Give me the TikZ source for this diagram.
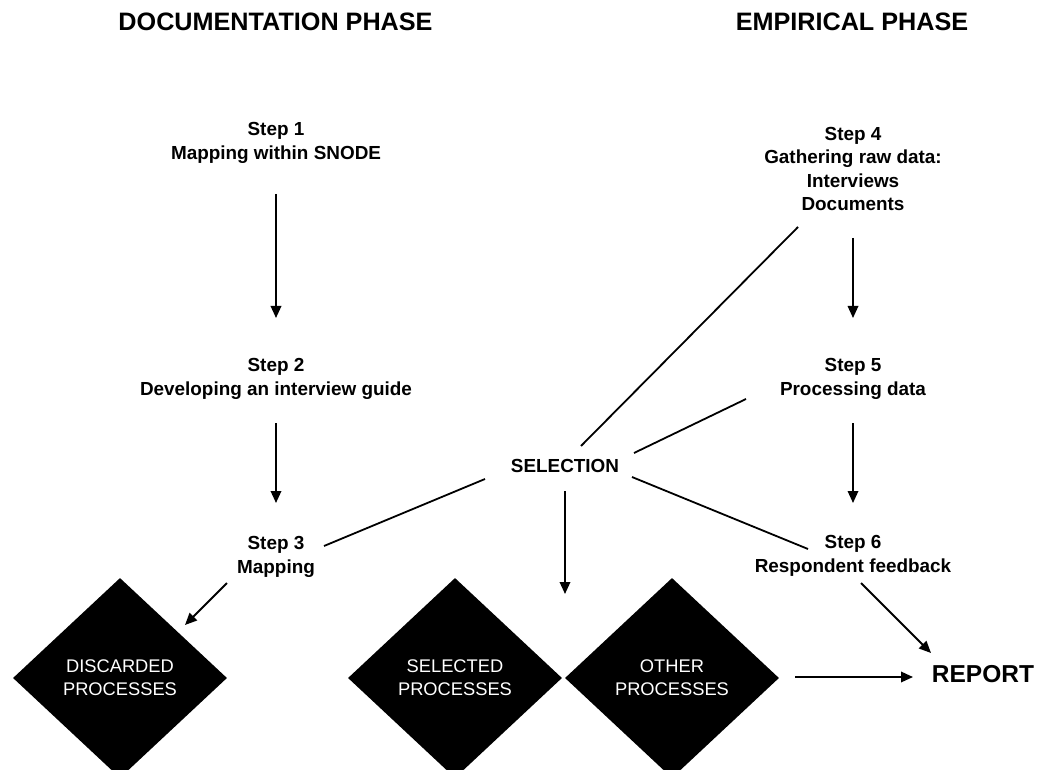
\documentclass[tikz,border=0pt]{standalone}
\usepackage{fontspec}
\setmainfont{Liberation Sans}
\usetikzlibrary{shapes.geometric,arrows.meta,calc}

\tikzset{
  phase/.style={font=\fontsize{25.2}{29}\selectfont\bfseries, inner sep=0pt},
  stepbox/.style={font=\fontsize{18.9}{23.5}\selectfont\bfseries, align=center, inner sep=0pt},
  process/.style={diamond, fill=black, text=white, align=center, inner sep=0pt,
    minimum width=214pt, minimum height=200pt,
    font=\fontsize{18.3}{23}\selectfont},
  link/.style={line width=1.8pt},
  arr/.style={line width=1.8pt, -{Triangle[length=12pt,width=10.5pt]}},
}

\begin{document}
\begin{tikzpicture}[x=1pt,y=-1pt]
  \useasboundingbox (0,0) rectangle (1045,770);

  % column headings
  \node[phase] (hdoc) at (275.5,22) {DOCUMENTATION PHASE};
  \node[phase] (hemp) at (852,22) {EMPIRICAL PHASE};

  % documentation phase steps
  \node[stepbox] (s1) at (276,143) {Step 1\\Mapping within SNODE};
  \node[stepbox] (s2) at (276,379) {Step 2\\Developing an interview guide};
  \node[stepbox] (s3) at (276,557) {Step 3\\Mapping};

  % empirical phase steps
  \node[stepbox] (s4) at (853,169) {Step 4\\Gathering raw data:\\Interviews\\Documents};
  \node[stepbox] (s5) at (853,379) {Step 5\\Processing data};
  \node[stepbox] (s6) at (853,556) {Step 6\\Respondent feedback};

  \node[stepbox] (sel) at (565,466) {SELECTION};

  % outcome diamonds
  \node[process] (disc) at (120,678) {DISCARDED\\PROCESSES};
  \node[process] (selp) at (455,678) {SELECTED\\PROCESSES};
  \node[process] (oth) at (672,678) {OTHER\\PROCESSES};

  \node[font=\fontsize{24.5}{29}\selectfont\bfseries, inner sep=0pt] (rep) at (983,674) {REPORT};

  % step sequence
  \draw[arr] ($(s1)+(0,51)$) -- ($(s2)+(0,-61)$);
  \draw[arr] ($(s2)+(0,44)$) -- ($(s3)+(0,-54)$);
  \draw[arr] ($(s4)+(0,69)$) -- ($(s5)+(0,-61)$);
  \draw[arr] ($(s5)+(0,44)$) -- ($(s6)+(0,-53)$);

  % selection links
  \draw[link] ($(sel)+(-80,13)$) -- ($(s3)+(48,-11)$);
  \draw[link] ($(sel)+(16,-20)$) -- ($(s4)+(-55,58)$);
  \draw[link] ($(sel)+(69,-13)$) -- ($(s5)+(-107,20)$);
  \draw[link] ($(sel)+(67,11)$) -- ($(s6)+(-45,-7)$);
  \draw[arr] ($(sel)+(0,25)$) -- ($(sel)+(0,128)$);

  % outputs
  \draw[arr] ($(s3)+(-49,26)$) -- ($(disc)+(65,-53)$);
  \draw[arr] ($(s6)+(8,27)$) -- ($(rep)+(-52,-21)$);
  \draw[arr] ($(oth)+(123,-1)$) -- ($(rep)+(-70,3)$);
\end{tikzpicture}
\end{document}
